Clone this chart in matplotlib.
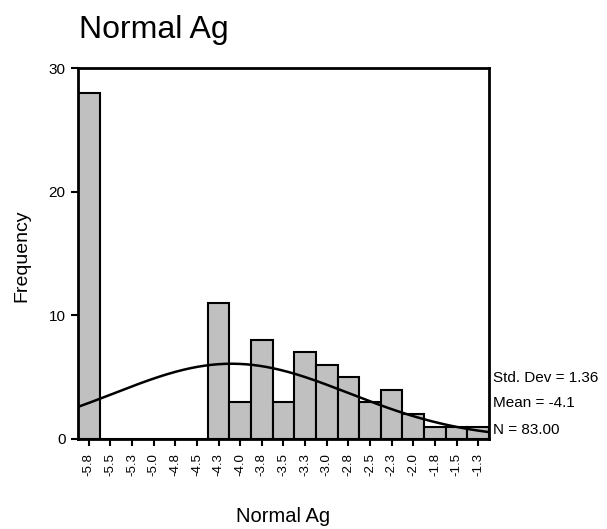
import numpy as np
import matplotlib
matplotlib.use('Agg')
import matplotlib.pyplot as plt

plt.rcParams['font.family'] = ['Liberation Sans', 'DejaVu Sans']

# bin centres and counts
bin_centers = [-5.75, -5.5, -5.25, -5.0, -4.75, -4.5, -4.25, -4.0, -3.75, -3.5,
               -3.25, -3.0, -2.75, -2.5, -2.25, -2.0, -1.75, -1.5, -1.25]
counts = [28, 0, 0, 0, 0, 0, 11, 3, 8, 3, 7, 6, 5, 3, 4, 2, 1, 1, 1]
tick_labels = ['-5.8', '-5.5', '-5.3', '-5.0', '-4.8', '-4.5', '-4.3', '-4.0', '-3.8',
               '-3.5', '-3.3', '-3.0', '-2.8', '-2.5', '-2.3', '-2.0', '-1.8', '-1.5', '-1.3']
bin_width = 0.25
std_dev = 1.36
mean = -4.1
n = 83

W, H = 607, 529
fig = plt.figure(figsize=(W/100, H/100), dpi=100)
ax = fig.add_axes([78/W, 1 - 439/H, 411/W, 371/H])

ax.bar(bin_centers, counts, width=bin_width, color='#c0c0c0', edgecolor='black',
       linewidth=1.5, zorder=2)

# normal curve from the stated mean / std dev / N
xs = np.linspace(bin_centers[0] - bin_width/2, bin_centers[-1] + bin_width/2, 300)
ys = n * bin_width / (std_dev * np.sqrt(2*np.pi)) * np.exp(-0.5*((xs - mean)/std_dev)**2)
ax.plot(xs, ys, color='black', linewidth=1.8, zorder=3)

ax.set_xlim(bin_centers[0] - bin_width/2, bin_centers[-1] + bin_width/2)
ax.set_ylim(0, 30)
ax.set_yticks([0, 10, 20, 30])
ax.set_xticks(bin_centers)
ax.set_xticklabels(tick_labels, rotation=90)
ax.tick_params(axis='both', width=1.5, length=5, direction='out')
ax.tick_params(axis='x', labelsize=9.5, pad=5)
ax.tick_params(axis='y', labelsize=11, pad=4)
for s in ax.spines.values():
    s.set_linewidth(2)

fig.text(22/W, 1 - 256/H, 'Frequency', fontsize=14, rotation=90, ha='center', va='center')
fig.text(283/W, 1 - 517/H, 'Normal Ag', fontsize=14.5, ha='center', va='center')
fig.text(79/W, 1 - 30/H, 'Normal Ag', fontsize=23, va='center', ha='left')

fig.text(493/W, 1 - 378/H, 'Std. Dev = %.2f' % std_dev, fontsize=11, va='center')
fig.text(493/W, 1 - 403/H, 'Mean = %.1f' % mean, fontsize=11, va='center')
fig.text(493/W, 1 - 430/H, 'N = %.2f' % n, fontsize=11, va='center')

plt.savefig('out.png', dpi=100)
